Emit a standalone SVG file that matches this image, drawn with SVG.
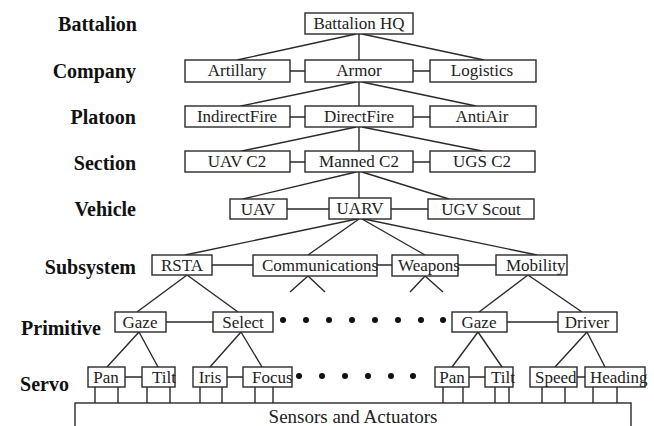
<svg xmlns="http://www.w3.org/2000/svg" width="654" height="426" viewBox="0 0 654 426">
  <style>
    .box { fill: #fff; stroke: #2a2a2a; stroke-width: 1.4; }
    .ln { fill: none; stroke: #2a2a2a; stroke-width: 1.4; }
    .t { font-family: "Liberation Serif", "Times New Roman", serif; font-size: 17px; fill: #222; }
    .m { text-anchor: middle; }
    .lvl { font-family: "Liberation Serif", "Times New Roman", serif; font-size: 20px; font-weight: bold; fill: #111; text-anchor: end; }
    .dot { fill: #111; }
  </style>
  <rect width="654" height="426" fill="#fff"/>

  <!-- level labels -->
  <g id="levels">
    <text class="lvl" x="137" y="31">Battalion</text>
    <text class="lvl" x="136" y="78">Company</text>
    <text class="lvl" x="136" y="124">Platoon</text>
    <text class="lvl" x="136" y="170">Section</text>
    <text class="lvl" x="136" y="216">Vehicle</text>
    <text class="lvl" x="136" y="274">Subsystem</text>
    <text class="lvl" x="101" y="335">Primitive</text>
    <text class="lvl" x="69" y="391">Servo</text>
  </g>

  <!-- connectors -->
  <g id="connectors" class="ln">
    <!-- battalion to company -->
    <path d="M356 34 L237 60 M359 34 V60 M362 34 L484 60"/>
    <path d="M290 71 H305 M413 71 H430"/>
    <!-- company to platoon -->
    <path d="M356 82 L241 106 M359 82 V106 M362 82 L476 106"/>
    <path d="M290 117 H305 M413 117 H430"/>
    <!-- platoon to section -->
    <path d="M356 127 L242 151 M359 127 V151 M362 127 L482 151"/>
    <path d="M290 162 H305 M413 162 H430"/>
    <!-- section to vehicle -->
    <path d="M356 172 L243 199 M359 172 V198 M362 172 L449 199"/>
    <path d="M287 209 H329 M391 209 H428"/>
    <!-- vehicle to subsystem -->
    <path d="M357 219 L185 255 M359 219 L308 255 M362 219 L425 255 M364 219 L537 255"/>
    <path d="M212 265 H253 M377 265 H392 M458 265 H496"/>
    <!-- subsystem to primitive -->
    <path d="M187 275 L137 312 M187 275 L238 312"/>
    <path d="M308 276 L290 292 M308 276 L325 292"/>
    <path d="M425 276 L410 292 M425 276 L443 292"/>
    <path d="M528 275 L479 312 M528 275 L582 312"/>
    <path d="M166 322 H213 M507 322 H558"/>
    <!-- primitive to servo -->
    <path d="M139 332 L107 367 M139 332 L158 367"/>
    <path d="M241 332 L210 367 M241 332 L262 367"/>
    <path d="M478 332 L452 367 M478 332 L502 367"/>
    <path d="M587 332 L555 367 M587 332 L605 367"/>
    <path d="M125 377 H142 M227 377 H243 M469 377 H485 M577 377 H585"/>
    <!-- servo to sensors and actuators -->
    <path d="M95 387 V403 M118 387 V403 M147 387 V403 M170 387 V403 M200 387 V403 M222 387 V403 M255 387 V403 M273 387 V403 M443 387 V403 M463 387 V403 M495 387 V403 M509 387 V403 M542 387 V403 M565 387 V403 M593 387 V403 M617 387 V403"/>
  </g>

  <!-- continuation dots -->
  <g id="ellipsis-primitive">
    <circle class="dot" cx="283" cy="320" r="3"/>
    <circle class="dot" cx="306" cy="320" r="3"/>
    <circle class="dot" cx="329" cy="320" r="3"/>
    <circle class="dot" cx="352" cy="320" r="3"/>
    <circle class="dot" cx="375" cy="320" r="3"/>
    <circle class="dot" cx="398" cy="320" r="3"/>
    <circle class="dot" cx="421" cy="320" r="3"/>
    <circle class="dot" cx="443" cy="320" r="3"/>
  </g>
  <g id="ellipsis-servo">
    <circle class="dot" cx="299" cy="376" r="3"/>
    <circle class="dot" cx="322" cy="376" r="3"/>
    <circle class="dot" cx="345" cy="376" r="3"/>
    <circle class="dot" cx="368" cy="376" r="3"/>
    <circle class="dot" cx="391" cy="376" r="3"/>
    <circle class="dot" cx="413" cy="376" r="3"/>
  </g>

  <!-- battalion -->
  <g id="battalion-hq"><rect class="box" x="305" y="13" width="108" height="21"/><text class="t m" x="359" y="29">Battalion HQ</text></g>

  <!-- company -->
  <g id="artillary"><rect class="box" x="185" y="60" width="105" height="22"/><text class="t m" x="237" y="76">Artillary</text></g>
  <g id="armor"><rect class="box" x="305" y="60" width="108" height="22"/><text class="t m" x="359" y="76">Armor</text></g>
  <g id="logistics"><rect class="box" x="430" y="60" width="106" height="22"/><text class="t m" x="482" y="76">Logistics</text></g>

  <!-- platoon -->
  <g id="indirect-fire"><rect class="box" x="185" y="106" width="105" height="21"/><text class="t m" x="237" y="122">IndirectFire</text></g>
  <g id="direct-fire"><rect class="box" x="305" y="106" width="108" height="21"/><text class="t m" x="359" y="122">DirectFire</text></g>
  <g id="anti-air"><rect class="box" x="430" y="106" width="106" height="21"/><text class="t m" x="482" y="122">AntiAir</text></g>

  <!-- section -->
  <g id="uav-c2"><rect class="box" x="185" y="151" width="105" height="21"/><text class="t m" x="237" y="167">UAV C2</text></g>
  <g id="manned-c2"><rect class="box" x="305" y="151" width="108" height="21"/><text class="t m" x="359" y="167">Manned C2</text></g>
  <g id="ugs-c2"><rect class="box" x="430" y="151" width="105" height="21"/><text class="t m" x="482" y="167">UGS C2</text></g>

  <!-- vehicle -->
  <g id="uav"><rect class="box" x="230" y="199" width="57" height="20"/><text class="t m" x="258" y="215">UAV</text></g>
  <g id="uarv"><rect class="box" x="329" y="198" width="62" height="21"/><text class="t m" x="360" y="214">UARV</text></g>
  <g id="ugv-scout"><rect class="box" x="428" y="199" width="106" height="20"/><text class="t m" x="481" y="215">UGV Scout</text></g>

  <!-- subsystem -->
  <g id="rsta"><rect class="box" x="152" y="255" width="60" height="20"/><text class="t m" x="182" y="271">RSTA</text></g>
  <g id="communications"><rect class="box" x="253" y="255" width="124" height="21"/><text class="t" x="262" y="271">Communications</text></g>
  <g id="weapons"><rect class="box" x="392" y="255" width="66" height="21"/><text class="t" x="398" y="271">Weapons</text></g>
  <g id="mobility"><rect class="box" x="496" y="255" width="71" height="20"/><text class="t" x="506" y="271">Mobility</text></g>

  <!-- primitive -->
  <g id="gaze-rsta"><rect class="box" x="115" y="312" width="51" height="20"/><text class="t m" x="140" y="328">Gaze</text></g>
  <g id="select"><rect class="box" x="213" y="312" width="60" height="20"/><text class="t m" x="243" y="328">Select</text></g>
  <g id="gaze-mobility"><rect class="box" x="452" y="312" width="55" height="20"/><text class="t m" x="479" y="328">Gaze</text></g>
  <g id="driver"><rect class="box" x="558" y="312" width="59" height="20"/><text class="t m" x="587" y="328">Driver</text></g>

  <!-- servo -->
  <g id="pan-1"><rect class="box" x="88" y="367" width="37" height="20"/><text class="t m" x="106" y="383">Pan</text></g>
  <g id="tilt-1"><rect class="box" x="142" y="367" width="33" height="20"/><text class="t" x="152" y="383">Tilt</text></g>
  <g id="iris"><rect class="box" x="193" y="367" width="34" height="20"/><text class="t m" x="210" y="383">Iris</text></g>
  <g id="focus"><rect class="box" x="243" y="367" width="49" height="20"/><text class="t" x="252" y="383">Focus</text></g>
  <g id="pan-2"><rect class="box" x="435" y="367" width="34" height="20"/><text class="t m" x="452" y="383">Pan</text></g>
  <g id="tilt-2"><rect class="box" x="485" y="367" width="28" height="20"/><text class="t" x="491" y="383">Tilt</text></g>
  <g id="speed"><rect class="box" x="530" y="367" width="47" height="20"/><text class="t" x="535" y="383">Speed</text></g>
  <g id="heading"><rect class="box" x="585" y="367" width="60" height="20"/><text class="t" x="590" y="383">Heading</text></g>

  <!-- hardware layer -->
  <g id="sensors-actuators"><rect class="box" x="75" y="403" width="556" height="34"/><text class="t m" x="353" y="423" style="font-size:19px">Sensors and Actuators</text></g>
</svg>
